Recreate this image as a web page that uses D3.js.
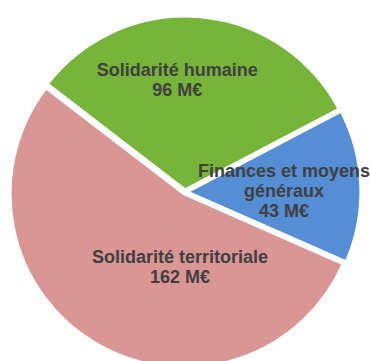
<!DOCTYPE html>
<html>
<head>
<meta charset="utf-8">
<script src="https://cdn.jsdelivr.net/npm/d3@7"></script>
<style>
  html, body { margin: 0; padding: 0; background: #ffffff; }
  svg { display: block; }
</style>
</head>
<body>
<svg id="chart" width="370" height="361"></svg>
<script>
// Budget split by area (M€)
const categories = ["Solidarité humaine", "Finances et moyens généraux", "Solidarité territoriale"];
const values = [96, 43, 162];
const labelLines = [
  ["Solidarité humaine", "96 M€"],
  ["Finances et moyens", "généraux", "43 M€"],
  ["Solidarité territoriale", "162 M€"]
];
const colors = ["#77b43a", "#558ed5", "#d99694"];

const width = 370, height = 361;
const cx = 185, cy = 192;
const radius = 174;
const explode = 2;
const startDeg = -52.5;

// Label nudges from the default centroid spot, per category
const labelNudge = {
  "Solidarité humaine": [-17, -5],
  "Finances et moyens généraux": [-9, 2],
  "Solidarité territoriale": [50, -18]
};

const svg = d3.select("#chart");
const g = svg.append("g").attr("transform", `translate(${cx},${cy})`);

const data = categories.map((c, i) => ({ name: c, value: values[i], lines: labelLines[i], color: colors[i] }));

const pie = d3.pie()
  .sort(null)
  .value(d => d.value)
  .startAngle(startDeg * Math.PI / 180)
  .endAngle(startDeg * Math.PI / 180 + 2 * Math.PI);

const arcs = pie(data);
const arc = d3.arc().innerRadius(0).outerRadius(radius);
const labelArc = d3.arc().innerRadius(108).outerRadius(108);

g.selectAll("path.slice")
  .data(arcs)
  .join("path")
  .attr("class", "slice")
  .attr("d", arc)
  .attr("fill", d => d.data.color)
  .attr("stroke", "#ffffff")
  .attr("stroke-width", 3.2)
  .attr("stroke-linejoin", "miter")
  .attr("transform", d => {
    const mid = (d.startAngle + d.endAngle) / 2;
    return `translate(${explode * Math.sin(mid)},${-explode * Math.cos(mid)})`;
  });

const fontSize = 18, lineH = 20;
g.selectAll("text.lbl")
  .data(arcs)
  .join("text")
  .attr("class", "lbl")
  .attr("text-anchor", "middle")
  .attr("font-family", "'Liberation Sans', Arial, sans-serif")
  .attr("font-weight", "bold")
  .attr("font-size", fontSize)
  .attr("fill", "#404040")
  .each(function (d) {
    const [x0, y0] = labelArc.centroid(d);
    const [nx, ny] = labelNudge[d.data.name];
    const x = x0 + nx, y = y0 + ny;
    const n = d.data.lines.length;
    const firstBase = y - (n - 1) * lineH / 2 + fontSize * 0.358;
    d3.select(this).selectAll("tspan")
      .data(d.data.lines)
      .join("tspan")
      .attr("x", x)
      .attr("y", (t, i) => firstBase + i * lineH)
      .text(t => t);
  });
</script>
</body>
</html>
